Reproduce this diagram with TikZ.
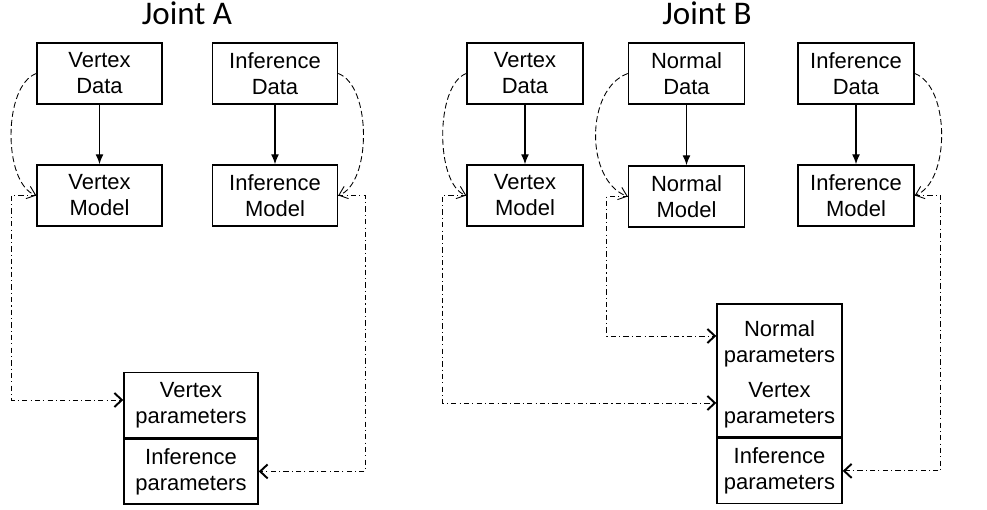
\documentclass[tikz,border=0pt]{standalone}
\usepackage{fontspec}
\setmainfont{Liberation Sans}
\newfontfamily\titlefont{Carlito}
\usepackage{tikz}
\usetikzlibrary{positioning, arrows.meta, calc}

\begin{document}
\begin{tikzpicture}[
    block/.style={draw, thick, minimum width=2.5cm, minimum height=1.22cm,
                  align=center, inner sep=1pt,
                  font=\fontsize{12.5}{14.8}\selectfont},
    param/.style={block, minimum width=2.68cm, minimum height=1.3cm},
    plain/.style={align=center, inner sep=1pt, font=\fontsize{12.5}{14.8}\selectfont},
    title/.style={font=\titlefont\fontsize{18.8}{22}\selectfont, anchor=base},
    arr/.style={-{Latex[length=2mm, width=1.6mm]}, thick},
    copy/.style={-{Straight Barb[length=1.6mm, width=2.6mm]}, dashed, semithin,
                 dash pattern=on 3.4pt off 1.8pt},
    share/.style={-{Straight Barb[length=1.5mm, width=2.8mm, line width=1.1pt]}, semithin,
                  dash pattern=on 3pt off 1.8pt on 0.6pt off 1.8pt},
    semithin/.style={line width=0.5pt},
]
\useasboundingbox (0,0) rectangle (19.74,-10.2);

% Joint A
\node[title] (titleA) at (3.74,-0.5) {Joint A};
\node[block] (vdataA) at (1.99,-1.47) {Vertex\\Data};
\node[block] (idataA) at (5.5,-1.47) {Inference\\Data};
\node[block] (vmodelA) at (1.99,-3.91) {Vertex\\Model};
\node[block] (imodelA) at (5.5,-3.91) {Inference\\Model};
\node[param] (vparA) at (3.82,-8.1) {Vertex\\parameters};
\node[param, below=0pt of vparA] (iparA) {Inference\\parameters};

\draw[arr] (vdataA) -- (vmodelA);
\draw[arr] (idataA) -- (imodelA);
\draw[copy] (vdataA.west) to[out=200, in=160, looseness=0.75] (vmodelA.west);
\draw[copy] (idataA.east) to[out=-20, in=20, looseness=0.75] (imodelA.east);
\draw[share] (vmodelA.west) -- ++(-0.5,0) |- ($(vparA.west)+(0,0.1)$);
\draw[share] (imodelA.east) -- ++(0.54,0) |- (iparA.east);

% Joint B
\node[title] (titleB) at (14.14,-0.5) {Joint B};
\node[block, minimum width=2.32cm] (vdataB) at (10.5,-1.47) {Vertex\\Data};
\node[block, minimum width=2.32cm] (ndataB) at (13.73,-1.47) {Normal\\Data};
\node[block, minimum width=2.32cm] (idataB) at (17.12,-1.47) {Inference\\Data};
\node[block, minimum width=2.32cm] (vmodelB) at (10.5,-3.91) {Vertex\\Model};
\node[block, minimum width=2.32cm] (nmodelB) at (13.73,-3.93) {Normal\\Model};
\node[block, minimum width=2.32cm] (imodelB) at (17.12,-3.91) {Inference\\Model};
\node[param, minimum width=2.5cm, minimum height=2.66cm] (parB) at (15.59,-7.41) {};
\node[plain] (nparB) at ($(parB.center)+(0,0.54)$) {Normal\\parameters};
\node[plain] (vparB) at ($(parB.center)+(0,-0.69)$) {Vertex\\parameters};
\node[param, minimum width=2.5cm, below=0pt of parB] (iparB) {Inference\\parameters};

\draw[arr] (vdataB) -- (vmodelB);
\draw[arr] (ndataB) -- (nmodelB);
\draw[arr] (idataB) -- (imodelB);
\draw[copy] (vdataB.west) to[out=200, in=160, looseness=0.7] (vmodelB.west);
\draw[copy] (ndataB.west) to[out=200, in=160, looseness=0.95] (nmodelB.west);
\draw[copy] (idataB.east) to[out=-20, in=20, looseness=0.8] (imodelB.east);
\draw[share] (vmodelB.west) -- ++(-0.48,0) |- ($(parB.west)+(0,-0.65)$);
\draw[share] (nmodelB.west) -- ++(-0.42,0) |- ($(parB.west)+(0,0.69)$);
\draw[share] (imodelB.east) -- ++(0.52,0) |- (iparB.east);
\end{tikzpicture}
\end{document}
